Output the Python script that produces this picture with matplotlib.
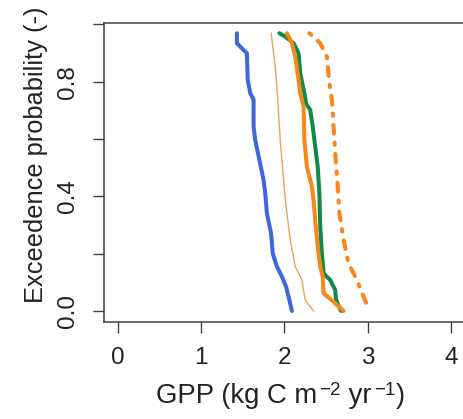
import matplotlib
matplotlib.use("Agg")
import matplotlib.pyplot as plt

# Data
blue_x = [1.43, 1.43, 1.55, 1.56, 1.59, 1.63, 1.63, 1.65, 1.70, 1.75, 1.77, 1.79, 1.84, 1.86, 1.91, 1.97, 2.02, 2.06, 2.09]
blue_y = [0.969, 0.934, 0.899, 0.806, 0.76, 0.737, 0.643, 0.596, 0.527, 0.457, 0.41, 0.341, 0.271, 0.201, 0.155, 0.12, 0.085, 0.038, 0.0]

thin_x = [1.84, 1.89, 1.92, 1.95, 1.99, 2.02, 2.07, 2.13, 2.21, 2.25, 2.35]
thin_y = [0.969, 0.852, 0.737, 0.596, 0.457, 0.364, 0.248, 0.155, 0.108, 0.038, 0.0]

green_x = [1.94, 2.01, 2.11, 2.17, 2.19, 2.24, 2.26, 2.31, 2.34, 2.37, 2.40, 2.42, 2.43, 2.45, 2.47, 2.55, 2.61, 2.62, 2.68]
green_y = [0.969, 0.957, 0.934, 0.899, 0.829, 0.76, 0.724, 0.701, 0.643, 0.573, 0.503, 0.41, 0.294, 0.201, 0.131, 0.108, 0.073, 0.038, 0.0]

orange_x = [2.03, 2.09, 2.13, 2.17, 2.19, 2.23, 2.24, 2.27, 2.33, 2.35, 2.37, 2.40, 2.43, 2.46, 2.47, 2.59, 2.71]
orange_y = [0.969, 0.934, 0.887, 0.806, 0.76, 0.713, 0.596, 0.503, 0.434, 0.387, 0.317, 0.224, 0.155, 0.12, 0.062, 0.032, 0.0]

dash_x = [2.30, 2.43, 2.51, 2.54, 2.57, 2.59, 2.61, 2.64, 2.66, 2.71, 2.77, 2.87, 2.98]
dash_y = [0.969, 0.934, 0.887, 0.794, 0.737, 0.643, 0.55, 0.434, 0.341, 0.248, 0.166, 0.108, 0.029]

x_ticks = [0, 1, 2, 3, 4]
y_ticks = [0.0, 0.2, 0.4, 0.6, 0.8, 1.0]
y_tick_labels = ["0.0", "", "0.4", "", "0.8", ""]

# x-axis label pieces: (text, is_superscript)
xlabel_parts = [("GPP (kg C m", False), ("\u22122", True), (" yr", False), ("\u22121", True), (")", False)]
ylabel_text = "Exceedence probability (-)"

plt.rcParams['font.family'] = ['Liberation Sans', 'DejaVu Sans']

W, H = 463, 419
fig = plt.figure(figsize=(W / 100, H / 100), dpi=100)
ax = fig.add_axes([104.4 / W, 97 / H, 360 / W, 298.7 / H])

ax.plot(blue_x, blue_y, color="#4066DC", lw=2.9, solid_joinstyle="round", solid_capstyle="round")
ax.plot(thin_x, thin_y, color="#E9A35A", lw=1.0)
ax.plot(green_x, green_y, color="#108A45", lw=2.9, solid_capstyle="round")
ax.plot(orange_x, orange_y, color="#F7861C", lw=2.9, solid_capstyle="round")
ax.plot(dash_x, dash_y, color="#F7861C", lw=2.9, linestyle=(0, (0.6, 2.2, 2.2, 2.2)), dash_capstyle="round")

ax.set_xlim(-0.16, 4.16)
ax.set_ylim(-0.0384, 1.0035)

ax.set_xticks(x_ticks)
ax.set_xticklabels([str(t) for t in x_ticks])
ax.set_yticks(y_ticks)
ax.set_yticklabels(y_tick_labels, rotation=90, va="center")

for s in ax.spines.values():
    s.set_color("#404040")
    s.set_linewidth(1.1)

ax.tick_params(axis="both", direction="out", length=8, width=1.0, color="#404040",
               labelsize=17.5, labelcolor="#222222", pad=10)

# y label
fig.text(36 / W, 1 - 155 / H, ylabel_text, rotation=90, ha="center", va="center",
         fontsize=18.3, color="#222222")

# x label built from pieces (R plotmath style superscripts)
fig.canvas.draw()
renderer = fig.canvas.get_renderer()
x_px = 155.5
base_px = H - 403.0
main_fs = 19.8
sup_fs = 13.5
for txt, sup in xlabel_parts:
    y_px = base_px + (8.5 if sup else 0)
    t = fig.text(x_px / W, y_px / H, txt, ha="left", va="baseline",
                 fontsize=sup_fs if sup else main_fs, color="#222222")
    bb = t.get_window_extent(renderer=renderer)
    x_px += bb.width + (1.0 if sup else 2.0)

fig.savefig("out.png", dpi=100)
